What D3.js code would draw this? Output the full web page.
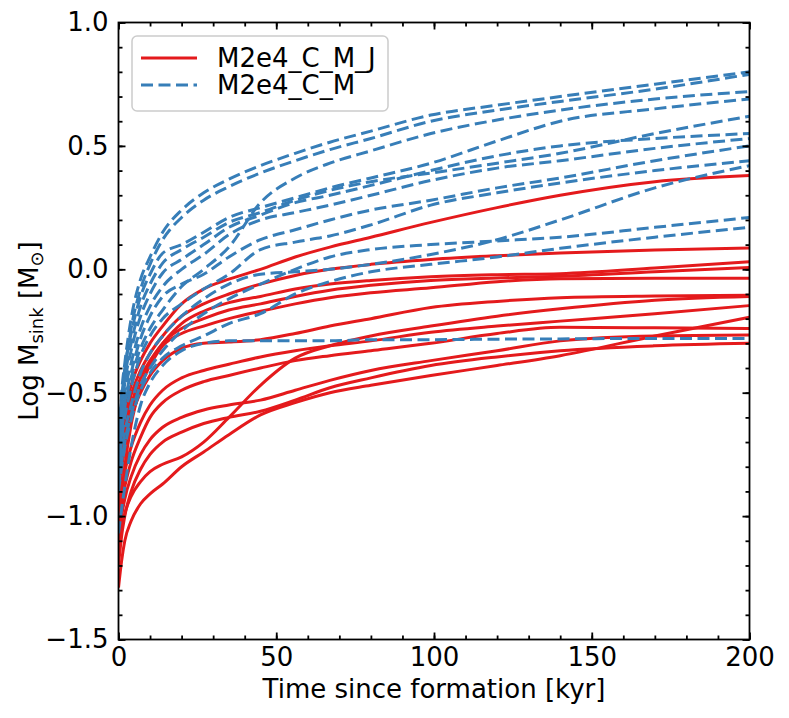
<!DOCTYPE html>
<html>
<head>
<meta charset="utf-8">
<script src="https://cdn.jsdelivr.net/npm/d3@7"></script>
<style>
  body { margin: 0; background: #fff; }
  svg { font-family: "DejaVu Sans", sans-serif; }
</style>
</head>
<body>
<svg id="chart" width="789" height="718"></svg>
<script>
// time samples (kyr since sink formation)
const timeKyr = [0, 1, 2, 4, 7, 10, 14, 20, 27, 35, 45, 56, 67, 80, 99, 120, 140, 170, 200]

// log sink mass, run M2e4_C_M_J (solid red)
const massCMJ = [
  [-0.78, -0.66, -0.58, -0.47, -0.37, -0.30, -0.23, -0.14, -0.08, -0.04, 0.00, 0.05, 0.09, 0.13, 0.19, 0.25, 0.30, 0.355, 0.38],
  [-0.82, -0.70, -0.62, -0.51, -0.41, -0.34, -0.27, -0.19, -0.14, -0.10, -0.06, -0.025, 0.00, 0.02, 0.04, 0.055, 0.066, 0.078, 0.086],
  [-0.86, -0.74, -0.66, -0.55, -0.44, -0.37, -0.30, -0.22, -0.17, -0.135, -0.11, -0.08, -0.06, -0.045, -0.03, -0.022, -0.018, 0.005, 0.031],
  [-1.05, -0.92, -0.80, -0.63, -0.48, -0.38, -0.30, -0.24, -0.20, -0.165, -0.14, -0.11, -0.085, -0.065, -0.045, -0.035, -0.028, -0.01, 0.007],
  [-0.90, -0.78, -0.70, -0.58, -0.47, -0.39, -0.31, -0.26, -0.23, -0.20, -0.17, -0.14, -0.115, -0.095, -0.075, -0.05, -0.038, -0.036, -0.036],
  [-0.95, -0.82, -0.72, -0.60, -0.50, -0.43, -0.37, -0.32, -0.30, -0.295, -0.285, -0.26, -0.23, -0.20, -0.155, -0.13, -0.115, -0.108, -0.105],
  [-1.15, -1.05, -0.99, -0.92, -0.86, -0.82, -0.79, -0.76, -0.70, -0.60, -0.47, -0.36, -0.31, -0.27, -0.23, -0.19, -0.16, -0.125, -0.11],
  [-1.00, -0.90, -0.82, -0.72, -0.62, -0.55, -0.49, -0.44, -0.41, -0.385, -0.355, -0.33, -0.31, -0.29, -0.255, -0.23, -0.21, -0.18, -0.147],
  [-1.05, -0.95, -0.88, -0.78, -0.68, -0.60, -0.54, -0.49, -0.455, -0.43, -0.40, -0.37, -0.35, -0.33, -0.30, -0.26, -0.235, -0.237, -0.24],
  [-1.10, -1.00, -0.93, -0.84, -0.75, -0.69, -0.64, -0.60, -0.57, -0.55, -0.53, -0.49, -0.45, -0.41, -0.37, -0.33, -0.29, -0.27, -0.266],
  [-1.20, -1.08, -1.00, -0.90, -0.81, -0.75, -0.70, -0.66, -0.625, -0.60, -0.575, -0.53, -0.48, -0.44, -0.39, -0.355, -0.33, -0.31, -0.30],
  [-1.29, -1.18, -1.10, -1.02, -0.95, -0.91, -0.87, -0.80, -0.74, -0.67, -0.59, -0.54, -0.50, -0.47, -0.43, -0.39, -0.35, -0.27, -0.194]
]

// log sink mass, run M2e4_C_M (dashed blue)
const massCM = [
  [-0.75, -0.50, -0.38, -0.20, -0.04, 0.05, 0.15, 0.24, 0.31, 0.365, 0.42, 0.47, 0.515, 0.56, 0.625, 0.665, 0.70, 0.75, 0.80],
  [-0.70, -0.55, -0.42, -0.24, -0.08, 0.02, 0.12, 0.21, 0.28, 0.335, 0.39, 0.44, 0.485, 0.53, 0.60, 0.645, 0.68, 0.73, 0.79],
  [-0.80, -0.66, -0.56, -0.44, -0.32, -0.24, -0.165, -0.07, 0.00, 0.09, 0.27, 0.37, 0.43, 0.48, 0.55, 0.605, 0.645, 0.69, 0.72],
  [-0.65, -0.52, -0.40, -0.26, -0.11, -0.02, 0.065, 0.10, 0.15, 0.21, 0.25, 0.29, 0.33, 0.37, 0.43, 0.52, 0.60, 0.65, 0.69],
  [-0.68, -0.55, -0.44, -0.30, -0.15, -0.06, 0.025, 0.08, 0.13, 0.19, 0.23, 0.28, 0.32, 0.355, 0.39, 0.43, 0.47, 0.55, 0.62],
  [-0.72, -0.57, -0.46, -0.33, -0.19, -0.10, -0.015, 0.04, 0.10, 0.17, 0.22, 0.27, 0.30, 0.34, 0.40, 0.46, 0.50, 0.53, 0.55],
  [-0.74, -0.60, -0.50, -0.38, -0.24, -0.15, -0.07, 0.00, 0.06, 0.14, 0.20, 0.23, 0.26, 0.30, 0.36, 0.41, 0.44, 0.49, 0.53],
  [-0.77, -0.64, -0.54, -0.42, -0.28, -0.19, -0.11, -0.06, -0.02, 0.05, 0.12, 0.16, 0.20, 0.24, 0.28, 0.33, 0.37, 0.44, 0.50],
  [-0.82, -0.69, -0.60, -0.48, -0.35, -0.27, -0.20, -0.14, -0.08, -0.02, 0.08, 0.11, 0.135, 0.18, 0.26, 0.31, 0.35, 0.40, 0.44],
  [-0.85, -0.74, -0.66, -0.55, -0.42, -0.34, -0.27, -0.19, -0.12, -0.06, -0.02, -0.01, 0.00, 0.02, 0.06, 0.12, 0.20, 0.33, 0.42],
  [-0.88, -0.78, -0.70, -0.59, -0.47, -0.40, -0.33, -0.25, -0.18, -0.12, -0.06, 0.00, 0.05, 0.08, 0.10, 0.115, 0.13, 0.17, 0.21],
  [-0.90, -0.80, -0.72, -0.61, -0.49, -0.42, -0.36, -0.31, -0.27, -0.22, -0.18, -0.10, -0.05, -0.01, 0.02, 0.05, 0.085, 0.13, 0.17],
  [-1.07, -0.97, -0.88, -0.72, -0.55, -0.46, -0.39, -0.33, -0.30, -0.29, -0.29, -0.29, -0.29, -0.285, -0.285, -0.283, -0.282, -0.28, -0.28]
]

const xTicks = [0, 50, 100, 150, 200]
const yTicks = [-1.5, -1.0, -0.5, 0.0, 0.5, 1.0]
const seriesNames = ["M2e4_C_M_J", "M2e4_C_M"]
const seriesColors = ["#e41a1c", "#377eb8"]

const plotLeft = 118.5, plotRight = 749.5, plotTop = 22.5, plotBottom = 639.5
const fontSize = 26
const lineWidth = 3

const svg = d3.select("#chart")

const x = d3.scaleLinear().domain([0, 200]).range([plotLeft, plotRight])
const y = d3.scaleLinear().domain([-1.5, 1.0]).range([plotBottom, plotTop])

svg.append("defs").append("clipPath").attr("id", "plot-clip")
    .append("rect")
    .attr("x", plotLeft).attr("y", plotTop)
    .attr("width", plotRight - plotLeft).attr("height", plotBottom - plotTop)

const line = d3.line()
    .x((d, i) => x(timeKyr[i]))
    .y(d => y(d))
    .curve(d3.curveMonotoneX)

const plot = svg.append("g").attr("clip-path", "url(#plot-clip)")

plot.selectAll("path.cmj")
    .data(massCMJ)
    .join("path")
    .attr("class", "cmj")
    .attr("d", line)
    .attr("fill", "none")
    .attr("stroke", seriesColors[0])
    .attr("stroke-width", lineWidth)
    .attr("stroke-linejoin", "round")

plot.selectAll("path.cm")
    .data(massCM)
    .join("path")
    .attr("class", "cm")
    .attr("d", line)
    .attr("fill", "none")
    .attr("stroke", seriesColors[1])
    .attr("stroke-width", lineWidth)
    .attr("stroke-dasharray", "12,5.5")

// axes: ticks point inward on all four sides
function styleAxis(g) {
    g.select(".domain").remove()
    g.selectAll("line").attr("stroke", "#000").attr("stroke-width", 1.8)
    g.selectAll("text").attr("font-size", fontSize).attr("fill", "#000")
        .attr("font-family", "DejaVu Sans")
}

const fmt = d3.format(".1f")
const xMinor = d3.range(0, 201, 10)
const yMinor = d3.range(-15, 11).map(v => v / 10)

svg.append("g").attr("transform", `translate(0,${plotBottom})`)
    .call(d3.axisBottom(x).tickValues(xMinor).tickSize(-4).tickFormat(""))
    .call(styleAxis)
svg.append("g").attr("transform", `translate(0,${plotBottom})`)
    .call(d3.axisBottom(x).tickValues(xTicks).tickSize(-7).tickPadding(8).tickFormat(d3.format("d")))
    .call(styleAxis)
svg.append("g").attr("transform", `translate(0,${plotTop})`)
    .call(d3.axisTop(x).tickValues(xMinor).tickSize(-4).tickFormat(""))
    .call(styleAxis)
svg.append("g").attr("transform", `translate(0,${plotTop})`)
    .call(d3.axisTop(x).tickValues(xTicks).tickSize(-7).tickFormat(""))
    .call(styleAxis)

svg.append("g").attr("transform", `translate(${plotLeft},0)`)
    .call(d3.axisLeft(y).tickValues(yMinor).tickSize(-4).tickFormat(""))
    .call(styleAxis)
svg.append("g").attr("transform", `translate(${plotLeft},0)`)
    .call(d3.axisLeft(y).tickValues(yTicks).tickSize(-7).tickPadding(10).tickFormat(fmt))
    .call(styleAxis)
svg.append("g").attr("transform", `translate(${plotRight},0)`)
    .call(d3.axisRight(y).tickValues(yMinor).tickSize(-4).tickFormat(""))
    .call(styleAxis)
svg.append("g").attr("transform", `translate(${plotRight},0)`)
    .call(d3.axisRight(y).tickValues(yTicks).tickSize(-7).tickFormat(""))
    .call(styleAxis)

svg.append("rect")
    .attr("x", plotLeft).attr("y", plotTop)
    .attr("width", plotRight - plotLeft).attr("height", plotBottom - plotTop)
    .attr("fill", "none").attr("stroke", "#000").attr("stroke-width", 1.8)

// axis labels
svg.append("text")
    .attr("x", (plotLeft + plotRight) / 2).attr("y", 698)
    .attr("text-anchor", "middle")
    .attr("font-size", fontSize)
    .text("Time since formation [kyr]")

const ylab = svg.append("text")
    .attr("transform", `translate(38,${(plotTop + plotBottom) / 2}) rotate(-90)`)
    .attr("text-anchor", "middle")
    .attr("font-size", fontSize)
ylab.append("tspan").text("Log M")
ylab.append("tspan").attr("font-size", 18).attr("dy", 5).text("sink")
ylab.append("tspan").attr("dy", -5).text(" [M")
ylab.append("tspan").attr("font-size", 18).attr("dy", 5).text("\u2299")
ylab.append("tspan").attr("dy", -5).text("]")

// legend
const legend = svg.append("g")
legend.append("rect")
    .attr("x", 132).attr("y", 36).attr("width", 256).attr("height", 75)
    .attr("rx", 5)
    .attr("fill", "#fff").attr("fill-opacity", 0.8)
    .attr("stroke", "#cccccc").attr("stroke-width", 1.5)

seriesNames.forEach((name, i) => {
    const ly = 58 + i * 27
    legend.append("line")
        .attr("x1", 141).attr("x2", 197)
        .attr("y1", ly).attr("y2", ly)
        .attr("stroke", seriesColors[i])
        .attr("stroke-width", lineWidth)
        .attr("stroke-dasharray", i === 1 ? "12,5.5" : null)
    legend.append("text")
        .attr("x", 217).attr("y", ly)
        .attr("dy", "0.36em")
        .attr("font-size", fontSize)
        .text(name)
})
</script>
</body>
</html>
